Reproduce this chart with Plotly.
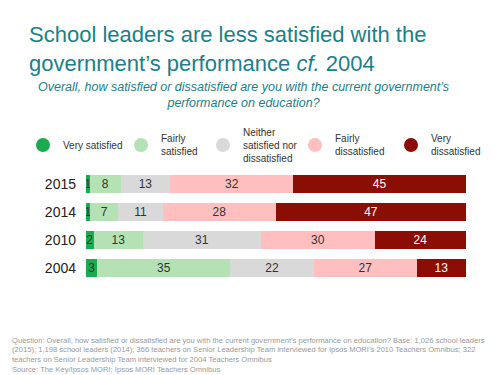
import plotly.graph_objects as go

years = ["2015", "2014", "2010", "2004"]
categories = ["Very satisfied", "Fairly satisfied", "Neither satisfied nor dissatisfied",
              "Fairly dissatisfied", "Very dissatisfied"]
legend_labels = ["Very satisfied", "Fairly<br>satisfied", "Neither<br>satisfied nor<br>dissatisfied",
                 "Fairly<br>dissatisfied", "Very<br>dissatisfied"]
very_satisfied = [1, 1, 2, 3]
fairly_satisfied = [8, 7, 13, 35]
neither = [13, 11, 31, 22]
fairly_dissatisfied = [32, 28, 30, 27]
very_dissatisfied = [45, 47, 24, 13]

series = [very_satisfied, fairly_satisfied, neither, fairly_dissatisfied, very_dissatisfied]
colors = ["#1aaa4f", "#b4e2b4", "#d9d9d9", "#ffbfbf", "#8b0e04"]
text_colors = ["#333333", "#333333", "#333333", "#333333", "#ffffff"]

footnote_lines = [
    "Question: Overall, how satisfied or dissatisfied are you with the current government’s performance on education? Base: 1,026 school leaders",
    "(2015); 1,198 school leaders (2014); 366 teachers on Senior Leadership Team interviewed for Ipsos MORI’s 2010 Teachers Omnibus; 322",
    "teachers on Senior Leadership Team interviewed for 2004 Teachers Omnibus",
    "Source: The Key/Ipsos MORI; Ipsos MORI Teachers Omnibus",
]

W, H = 500, 375
ML, MR, MT, MB = 86, 34, 170, 93
PW, PH = W - ML - MR, H - MT - MB


def px_x(px):
    return (px - ML) / PW


def px_y(py):
    return (H - MB - py) / PH


fig = go.Figure()
for name, vals, col, tc in zip(categories, series, colors, text_colors):
    fig.add_trace(go.Bar(
        y=years, x=vals, orientation="h", name=name, marker=dict(color=col, line=dict(width=0)),
        text=[str(v) for v in vals], textposition="inside", insidetextanchor="middle", textangle=0,
        textfont=dict(color=tc, size=12, family="Liberation Sans, Arial, sans-serif"),
        showlegend=False, hoverinfo="skip",
    ))

legend_left_px = [23, 121, 203, 295, 391]
legend_layouts = {}
for i, (lab, col) in enumerate(zip(legend_labels, colors)):
    key = "legend" if i == 0 else f"legend{i + 1}"
    fig.add_trace(go.Scatter(
        x=[None], y=[None], mode="markers", name=lab, legend=key,
        marker=dict(color=col, size=14, symbol="circle"),
    ))
    legend_layouts[key] = dict(
        x=px_x(legend_left_px[i]), xanchor="left", y=px_y(145), yanchor="middle",
        font=dict(size=10, color="#333333"), bgcolor="rgba(0,0,0,0)", itemclick=False,
        itemdoubleclick=False,
    )

teal = "#1b8089"
fig.update_layout(
    width=W, height=H,
    margin=dict(l=ML, r=MR, t=MT, b=MB, autoexpand=False),
    paper_bgcolor="white", plot_bgcolor="white",
    barmode="stack", barnorm="percent", bargap=0.33,
    uniformtext=dict(minsize=12, mode="show"),
    font=dict(family="Liberation Sans, Arial, sans-serif", color="#333333"),
    xaxis=dict(visible=False, range=[0, 100], fixedrange=True),
    yaxis=dict(autorange="reversed", showgrid=False, zeroline=False, showline=False,
               ticks="", ticklabelstandoff=9,
               tickfont=dict(size=14, color="#222222")),
    showlegend=True,
    title=dict(text="School leaders are less satisfied with the<br>government’s performance <i>cf.</i> 2004",
               x=29 / W, xref="container", xanchor="left", y=1 - 42 / H, yref="container", yanchor="top",
               font=dict(size=22, color=teal, family="Liberation Sans, Arial, sans-serif")),
    **legend_layouts,
)
fig.add_annotation(
    text="<i>Overall, how satisfied or dissatisfied are you with the current government’s<br>performance on education?</i>",
    xref="paper", yref="paper", x=px_x(243), y=px_y(95), xanchor="center", yanchor="middle",
    showarrow=False, font=dict(size=12.5, color=teal),
)
for line, ypx in zip(footnote_lines, [340, 349.7, 359.3, 369]):
    fig.add_annotation(
        text=line, xref="paper", yref="paper", x=px_x(10), y=px_y(ypx), xanchor="left", yanchor="middle",
        align="left", showarrow=False, font=dict(size=7.6, color="#9a9a9a"),
    )

fig.write_html("out.html", config={"displayModeBar": False},
               post_script="document.body.style.margin='0';")
